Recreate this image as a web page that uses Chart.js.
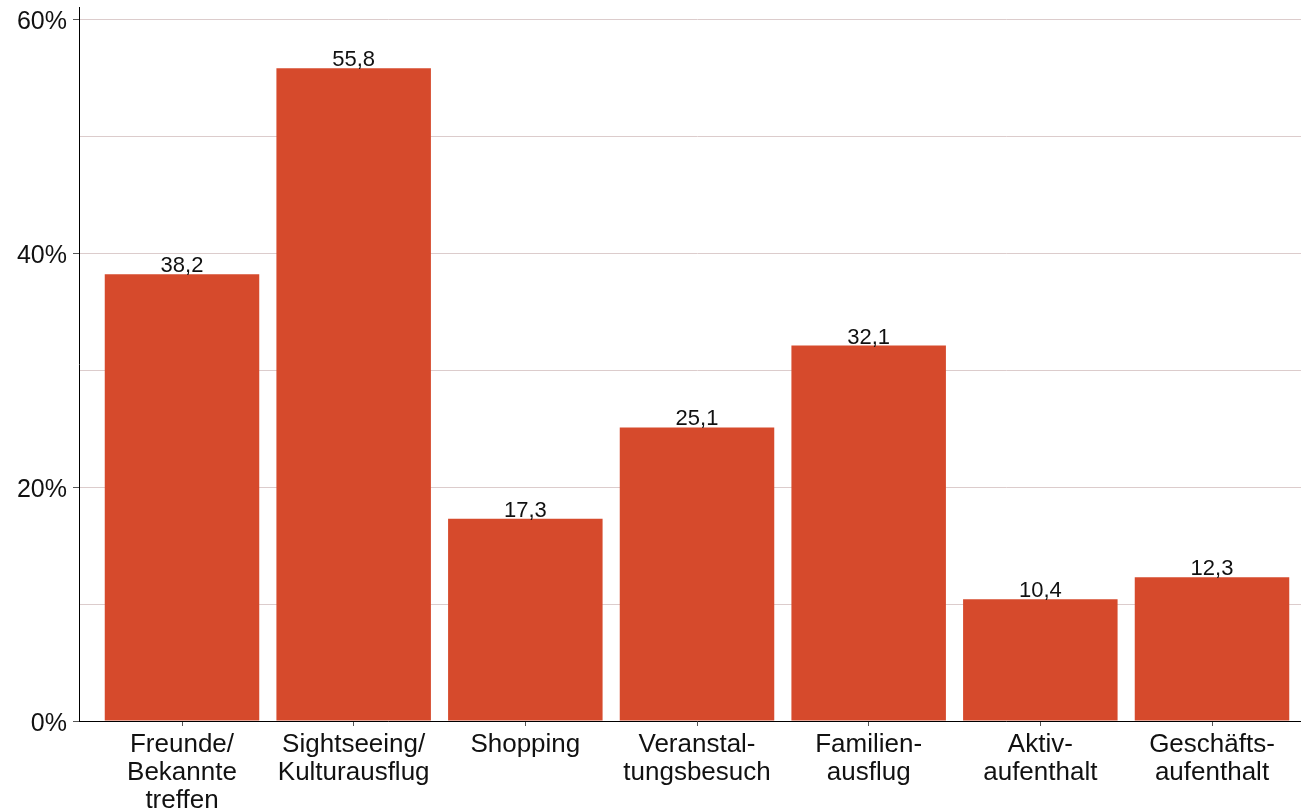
<!DOCTYPE html>
<html><head><meta charset="utf-8">
<script src="https://cdn.jsdelivr.net/npm/chart.js@4.4.1/dist/chart.umd.min.js"></script>
<style>
html,body{margin:0;padding:0;background:#fff;overflow:hidden;}
#wrap{position:relative;width:1315px;height:812px;}
</style></head>
<body><div id="wrap"><canvas id="c"></canvas></div>
<script>
const categories = [
  ["Freunde/","Bekannte","treffen"],
  ["Sightseeing/","Kulturausflug"],
  ["Shopping"],
  ["Veranstal-","tungsbesuch"],
  ["Familien-","ausflug"],
  ["Aktiv-","aufenthalt"],
  ["Geschäfts-","aufenthalt"]
];
const values = [38.2, 55.8, 17.3, 25.1, 32.1, 10.4, 12.3];
const yTicks = [0, 10, 20, 30, 40, 50, 60];
const yLabelTicks = [0, 20, 40, 60];

const barColor = 'rgb(214,74,44)';
const FONT = '"Liberation Sans", Arial, sans-serif';

const labelPlugin = {
  id: 'valLabels',
  afterDatasetsDraw(chart) {
    const ctx = chart.ctx;
    const meta = chart.getDatasetMeta(0);
    ctx.save();
    ctx.font = '22px ' + FONT;
    ctx.fillStyle = '#111';
    ctx.textAlign = 'center';
    ctx.textBaseline = 'alphabetic';
    meta.data.forEach((el, i) => {
      ctx.fillText(values[i].toFixed(1).replace('.', ','), el.x, el.y - 2);
    });
    ctx.restore();
  }
};

new Chart(document.getElementById('c'), {
  type: 'bar',
  data: {
    datasets: [{
      data: values.map((v, i) => ({x: i + 1, y: v})),
      backgroundColor: barColor,
      borderWidth: 0,
      barPercentage: 0.9,
      categoryPercentage: 1.0
    }]
  },
  options: {
    responsive: true,
    maintainAspectRatio: false,
    animation: false,
    layout: {padding: {top: 7.5, right: 0, bottom: 0, left: 0}},
    plugins: {legend: {display: false}, tooltip: {enabled: false}},
    scales: {
      x: {
        type: 'linear',
        offset: false,
        min: 0.4,
        max: 7.6,
        afterBuildTicks(s) { s.ticks = categories.map((_, i) => ({value: i + 1})); },
        afterFit(s) { s.height = 91; s.paddingLeft = 0; s.paddingRight = 0; },
        border: {display: true, color: '#000', width: 1},
        grid: {display: true, offset: false, drawOnChartArea: false, drawTicks: true, tickLength: 5, color: '#555'},
        ticks: {
          autoSkip: false, maxRotation: 0, padding: 5,
          color: '#111',
          font: {family: FONT, size: 26, lineHeight: 1.08},
          callback: (v) => categories[Math.round(v) - 1]
        }
      },
      y: {
        min: 0,
        max: 61,
        afterBuildTicks(s) { s.ticks = yTicks.map(v => ({value: v})); },
        afterFit(s) { s.width = 79; s.paddingTop = 0; s.paddingBottom = 0; },
        border: {display: true, color: '#000', width: 1},
        grid: {
          color: '#dccccc',
          lineWidth: 1,
          tickLength: 6,
          tickColor: (c) => (c.tick && yLabelTicks.includes(c.tick.value)) ? '#555' : 'rgba(0,0,0,0)'
        },
        ticks: {
          padding: 6,
          labelOffset: 3,
          color: '#111',
          font: {family: FONT, size: 25},
          callback: (v) => yLabelTicks.includes(v) ? v + '%' : ''
        }
      }
    }
  },
  plugins: [labelPlugin]
});
</script></body></html>
